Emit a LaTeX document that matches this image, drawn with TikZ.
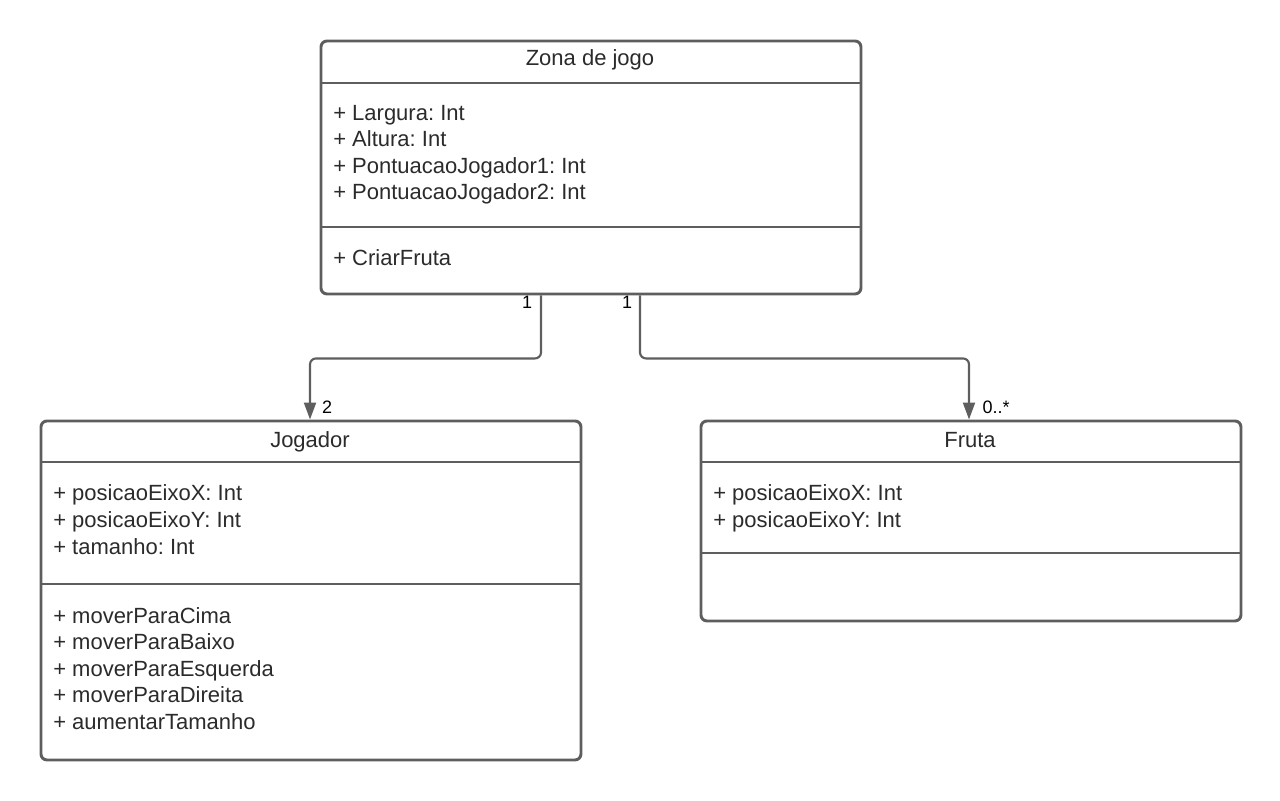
\documentclass[tikz,border=0pt]{standalone}
\usepackage{fontspec}
\setmainfont{Liberation Sans}
\usetikzlibrary{arrows.meta,calc}
\definecolor{lineC}{HTML}{5E5E5E}
\definecolor{textC}{HTML}{2B2B2B}
\tikzset{
  umlbox/.style={draw=lineC, line width=2.2pt, rounded corners=4.5pt, anchor=north west, inner sep=0pt, fill=white},
  sepline/.style={draw=lineC, line width=2.2pt},
  member/.style={anchor=base west, inner sep=0pt, text=textC, font=\fontsize{16.5}{19}\selectfont},
  title/.style={anchor=base, inner sep=0pt, text=textC, font=\fontsize{16.5}{19}\selectfont},
  mult/.style={anchor=base, inner sep=0pt, text=black, font=\fontsize{13.5}{15}\selectfont},
  conn/.style={draw=lineC, line width=1.6pt, rounded corners=4.5pt, -{Triangle[length=12.75pt,width=9pt]}},
}
\begin{document}
\frenchspacing
\begin{tikzpicture}[x=0.75pt,y=-0.75pt]
\useasboundingbox (0,0) rectangle (1280,800);
% Zona de jogo
\node[umlbox, minimum width=405pt, minimum height=189.75pt] (zona) at (319.5,39.5) {};
\draw[sepline] (320,83) -- (860,83);
\draw[sepline] (320,227) -- (860,227);
\node[title] (zt) at (590,65) {Zona de jogo};
\node[member] (za1) at (333,120) {+ Largura: Int};
\node[member] (za2) at (333,146.5) {+ Altura: Int};
\node[member] (za3) at (333,173) {+ PontuacaoJogador1: Int};
\node[member] (za4) at (333,199.5) {+ PontuacaoJogador2: Int};
\node[member] (zm1) at (333,265) {+ CriarFruta};
% Jogador
\node[umlbox, minimum width=405pt, minimum height=254.25pt] (jogador) at (39.5,419.5) {};
\draw[sepline] (40,462) -- (580,462);
\draw[sepline] (40,584) -- (580,584);
\node[title] (jt) at (310,447) {Jogador};
\node[member] (ja1) at (53,500.5) {+ posicaoEixoX: Int};
\node[member] (ja2) at (53,527) {+ posicaoEixoY: Int};
\node[member] (ja3) at (53,554) {+ tamanho: Int};
\node[member] (jm1) at (53,623) {+ moverParaCima};
\node[member] (jm2) at (53,649.5) {+ moverParaBaixo};
\node[member] (jm3) at (53,676) {+ moverParaEsquerda};
\node[member] (jm4) at (53,702.5) {+ moverParaDireita};
\node[member] (jm5) at (53,729) {+ aumentarTamanho};
% Fruta
\node[umlbox, minimum width=405pt, minimum height=150pt] (fruta) at (699.5,419.5) {};
\draw[sepline] (700,462) -- (1240,462);
\draw[sepline] (700,553) -- (1240,553);
\node[title] (ft) at (970,447) {Fruta};
\node[member] (fa1) at (713,500.5) {+ posicaoEixoX: Int};
\node[member] (fa2) at (713,527) {+ posicaoEixoY: Int};
% connectors
\draw[conn] ($(zona.south west)+(221.5,0)$) -- ++(0,63) -| ($(jogador.north west)+(270.5,0)$);
\draw[conn] ($(zona.south west)+(320.5,0)$) -- ++(0,63) -| ($(fruta.north west)+(269.5,0)$);
% multiplicities
\node[mult] (m1) at (527,308) {1};
\node[mult] (m2) at (627,308) {1};
\node[mult] (m3) at (327,413) {2};
\node[mult] (m4) at (996,413) {0..*};
\end{tikzpicture}
\end{document}
